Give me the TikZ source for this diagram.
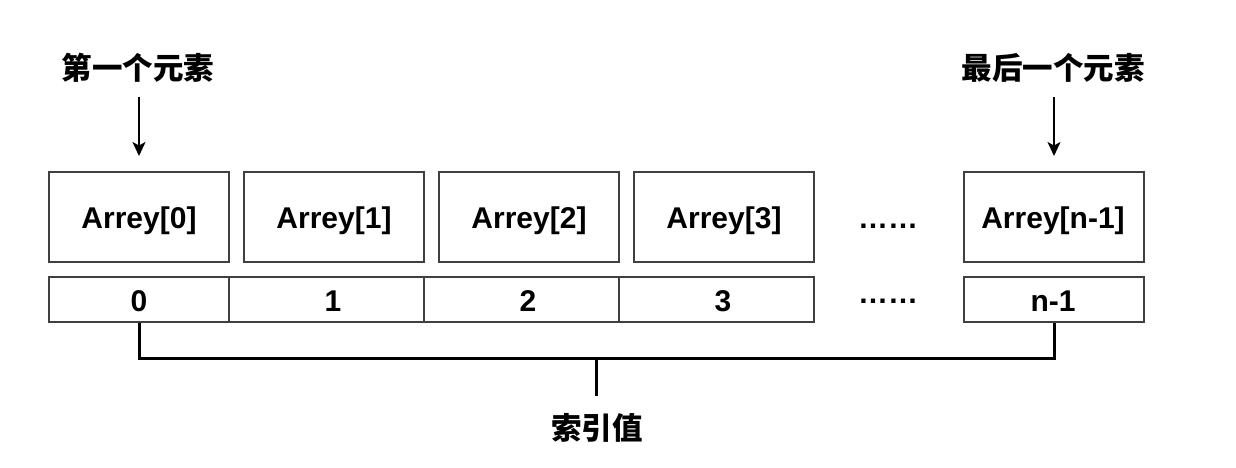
\documentclass[tikz,border=0pt]{standalone}
\usepackage{fontspec}
\setmainfont{Liberation Sans}
\newfontfamily\cjk{Noto Sans CJK SC}
\usetikzlibrary{arrows.meta}
\definecolor{boxgray}{HTML}{404040}
\begin{document}
\begin{tikzpicture}[x=1pt,y=-1pt,
  txt/.style={font=\fontsize{30}{35}\selectfont\bfseries},
  cjktxt/.style={font=\fontsize{30.5}{35}\selectfont\cjk\bfseries},
  elembox/.style={draw=boxgray,line width=2pt,minimum width=180pt,minimum height=90pt,inner sep=0pt},
  cellbox/.style={draw=boxgray,line width=2pt,minimum height=45pt,inner sep=0pt},
  ptr/.style={line width=1.5pt,-{Stealth[length=14pt,width=13pt,inset=3.5pt]}},
  brack/.style={line width=3pt}]
\useasboundingbox (0,0) rectangle (1236,467);
% element boxes
\node[elembox] (b0) at (139,217) {};
\node[elembox] (b1) at (334,217) {};
\node[elembox] (b2) at (529,217) {};
\node[elembox] (b3) at (724,217) {};
\node[elembox] (bn) at (1054,217) {};
\node[txt,anchor=base] (t0) at (139,228) {Arrey[0]};
\node[txt,anchor=base] (t1) at (334,228) {Arrey[1]};
\node[txt,anchor=base] (t2) at (529,228) {Arrey[2]};
\node[txt,anchor=base] (t3) at (724,228) {Arrey[3]};
\node[txt,anchor=base] (tn) at (1053,228) {Arrey[n-1]};
% index cells
\node[cellbox,minimum width=180pt] (c0) at (139,299.5) {};
\node[cellbox,minimum width=195pt] (c1) at (326.5,299.5) {};
\node[cellbox,minimum width=195pt] (c2) at (521.5,299.5) {};
\node[cellbox,minimum width=195pt] (c3) at (716.5,299.5) {};
\node[cellbox,minimum width=180pt] (cn) at (1054,299.5) {};
\node[txt,anchor=base] (l0) at (139,311) {0};
\node[txt,anchor=base] (l1) at (333,311) {1};
\node[txt,anchor=base] (l2) at (528,311) {2};
\node[txt,anchor=base] (l3) at (723,311) {3};
\node[txt,anchor=base] (ln) at (1053,311) {n-1};
% dots
\node[txt,anchor=base] (d1) at (888,228) {……};
\node[txt,anchor=base] (d2) at (888,303) {……};
% top labels
\node[cjktxt] (first) at (138,68) {第一个元素};
\node[cjktxt] (last) at (1053,68) {最后一个元素};
\draw[ptr] (b0.north |- 0,97) -- ([yshift=15pt]b0.north);
\draw[ptr] (bn.north |- 0,97) -- ([yshift=15pt]bn.north);
% bracket
\coordinate (mid) at (596,358);
\node[cjktxt] (idx) at (597,428) {索引值};
\draw[brack] (c0.south) -- (c0.south |- mid) -- (cn.south |- mid) -- (cn.south);
\draw[brack] (mid) -- (mid |- 0,396);
\end{tikzpicture}
\end{document}
